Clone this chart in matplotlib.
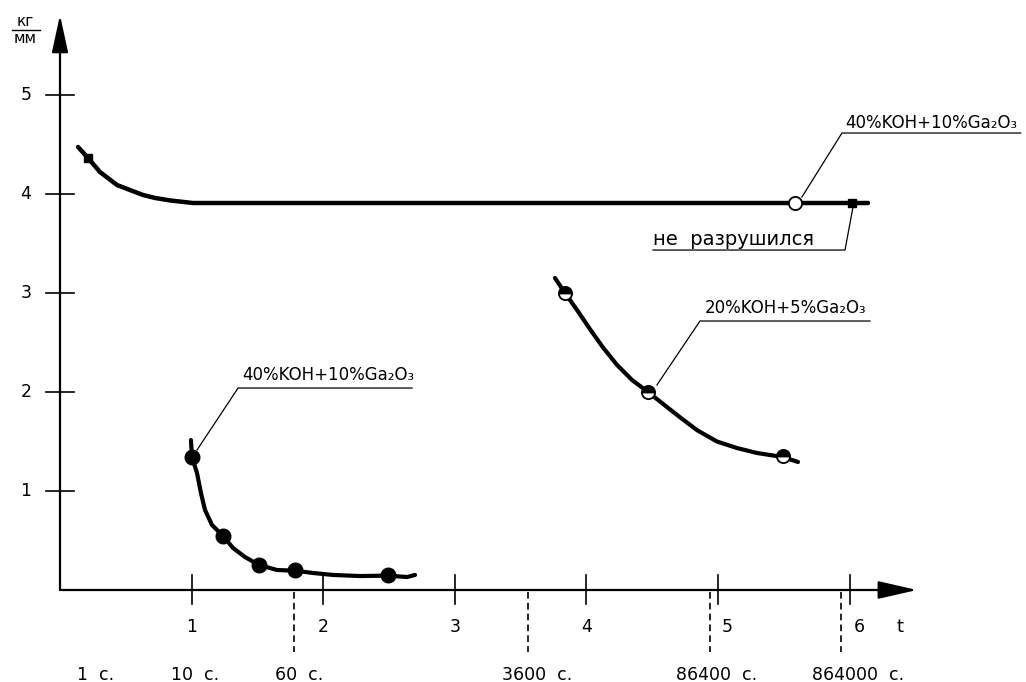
import numpy as np
import matplotlib
matplotlib.use("Agg")
import matplotlib.pyplot as plt

# ---------------------------------------------------------------------------
# Data: x = lg t (t in seconds), y = strength [kg/mm]
# ---------------------------------------------------------------------------
# 40%KOH+10%Ga2O3, specimen not destroyed (upper curve)
top_x = [0.137, 0.213, 0.304, 0.433, 0.532, 0.631, 0.722, 0.836, 1.011, 6.14]
top_y = [4.475, 4.364, 4.222, 4.091, 4.040, 3.990, 3.960, 3.935, 3.909, 3.909]
top_sq_x = [0.213, 6.018]
top_sq_y = [4.364, 3.909]
top_open_x = [5.585]
top_open_y = [3.909]

# 20%KOH+5%Ga2O3
mid_x = [3.761, 3.837, 3.929, 4.027, 4.126, 4.233, 4.347, 4.468, 4.582,
         4.711, 4.840, 4.992, 5.144, 5.296, 5.494, 5.608]
mid_y = [3.152, 3.000, 2.828, 2.635, 2.450, 2.273, 2.121, 2.000, 1.880,
         1.745, 1.615, 1.500, 1.434, 1.384, 1.343, 1.293]
mid_pts_x = [3.837, 4.468, 5.494]
mid_pts_y = [3.000, 2.000, 1.355]

# 40%KOH+10%Ga2O3 (lower curve)
low_x = [0.995, 1.003, 1.041, 1.071, 1.102, 1.155, 1.239, 1.315, 1.406,
         1.512, 1.649, 1.786, 1.922, 2.074, 2.280, 2.490, 2.637, 2.698]
low_y = [1.515, 1.343, 1.182, 0.980, 0.808, 0.657, 0.545, 0.424, 0.333,
         0.253, 0.202, 0.195, 0.172, 0.152, 0.141, 0.145, 0.131, 0.152]
low_pts_x = [1.003, 1.239, 1.512, 1.786, 2.49]
low_pts_y = [1.343, 0.545, 0.253, 0.202, 0.152]

x_ticks = [1, 2, 3, 4, 5, 6]
y_ticks = [1, 2, 3, 4, 5]
time_labels = ["1  с.", "10  с.", "60  с.", "3600  с.", "86400  с.", "864000  с."]
dashed_times = [60, 3600, 86400, 864000]

# ---------------------------------------------------------------------------
# layout: origin of the drawn axes at pixel (60, 590), 131.6 px per decade,
# 99 px per kg/mm
# ---------------------------------------------------------------------------
W, H = 1026, 682
OX, OY, SX, SY = 60, 590, 131.6, 99.0

fig = plt.figure(figsize=(W / 100, H / 100), dpi=100)
ax = fig.add_axes([0, 0, 1, 1])
ax.set_xlim(-OX / SX, (W - OX) / SX)
ax.set_ylim(-(H - OY) / SY, OY / SY)
ax.axis("off")

FONT = "DejaVu Sans"
K = "black"

# axes with arrows
ax.annotate("", xy=(6.512, 0), xytext=(0, 0),
            arrowprops=dict(arrowstyle="-|>,head_length=2.4,head_width=0.55",
                            lw=1.6, color=K, mutation_scale=10,
                            shrinkA=0, shrinkB=0))
ax.annotate("", xy=(0, 5.808), xytext=(0, 0),
            arrowprops=dict(arrowstyle="-|>,head_length=2.3,head_width=0.5",
                            lw=1.6, color=K, mutation_scale=10,
                            shrinkA=0, shrinkB=0))

for xt in x_ticks:
    ax.plot([xt, xt], [0.152, -0.141], color=K, lw=1.2)
    dx = 0.03 if xt >= 5 else 0.0
    ax.text(xt + dx, -0.424, str(xt), ha="left" if xt >= 5 else "center",
            va="baseline", fontsize=12.5, family=FONT)
ax.text(6.383, -0.424, "t", ha="center", va="baseline", fontsize=13, family=FONT)

for yt in y_ticks:
    ax.plot([-0.106, 0.106], [yt, yt], color=K, lw=1.2)
    ax.text(-0.258, yt, str(yt), ha="center", va="center", fontsize=12.5,
            family=FONT)

# y unit kg/mm
ax.text(-0.262, 5.667, "кг", ha="center", va="bottom", fontsize=11, family=FONT)
ax.plot([-0.365, -0.152], [5.657, 5.657], color=K, lw=1.0)
ax.text(-0.262, 5.647, "мм", ha="center", va="top", fontsize=11, family=FONT)

# time markers under the axis
for t in dashed_times:
    lt = np.log10(t)
    ax.plot([lt, lt], [-0.02, -0.626], color=K, lw=1.2, ls=(0, (4, 2.5)))

label_cx = [96, 195, 299, 537, 717, 858]  # label centres, px
for cx, lab in zip(label_cx, time_labels):
    ax.text((cx - OX) / SX, -0.909, lab, ha="center", va="baseline",
            fontsize=12.5, family=FONT)

# ---------------------------------------------------------------------------
# curves
# ---------------------------------------------------------------------------
ax.plot(top_x, top_y, color=K, lw=3.2, solid_capstyle="round",
        solid_joinstyle="round")
ax.plot(top_sq_x, top_sq_y, "s", color=K, ms=6)
ax.plot(top_open_x, top_open_y, "o", mfc="white", mec=K, mew=1.3, ms=9.5)

ax.plot(mid_x, mid_y, color=K, lw=3.0, solid_capstyle="round",
        solid_joinstyle="round")
ax.plot(mid_pts_x, mid_pts_y, "o", fillstyle="top", mfc=K, mfcalt="white",
        mec=K, mew=1.3, ms=9.5)

ax.plot(low_x, low_y, color=K, lw=3.0, solid_capstyle="round",
        solid_joinstyle="round")
ax.plot(low_pts_x, low_pts_y, "o", color=K, ms=10.5)

# ---------------------------------------------------------------------------
# leader lines and labels
# ---------------------------------------------------------------------------
TXT = dict(fontsize=12, family=FONT, va="baseline", ha="left")

ax.plot([5.638, 5.942, 7.30], [3.970, 4.616, 4.616], color=K, lw=0.9)
ax.text(5.965, 4.667, "40%KOH+10%Ga₂O₃", **TXT)

ax.plot([6.026, 5.965, 4.506], [3.869, 3.434, 3.434], color=K, lw=0.9)
ax.text(4.506, 3.485, "не  разрушился", fontsize=14, family=FONT,
        va="baseline", ha="left")

ax.plot([4.536, 4.863, 6.155], [2.071, 2.717, 2.717], color=K, lw=0.9)
ax.text(4.901, 2.798, "20%KOH+5%Ga₂O₃", **TXT)

ax.plot([1.041, 1.353, 2.675], [1.414, 2.040, 2.040], color=K, lw=0.9)
ax.text(1.383, 2.121, "40%KOH+10%Ga₂O₃", **TXT)

fig.savefig("out.png", dpi=100)
